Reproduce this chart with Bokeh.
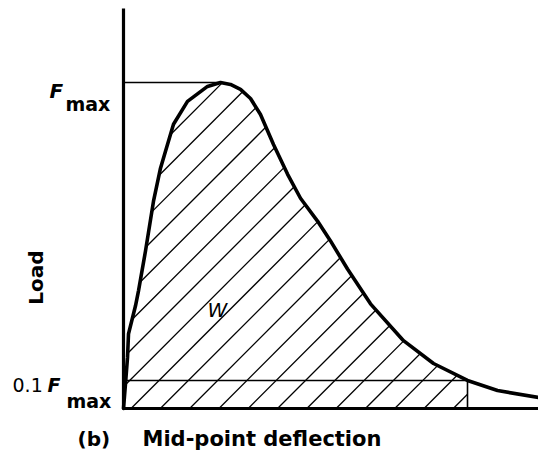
import numpy as np
from bokeh.plotting import figure
from bokeh.models import Range1d, Label
from bokeh.embed import file_html
from bokeh.resources import INLINE

# ---- data (deflection in arbitrary units, load as fraction of Fmax)
deflection = [0.0, 0.05, 0.10, 0.125, 0.30, 0.375, 0.55, 0.75, 0.925, 1.05, 1.25, 1.60,
              2.10, 2.425, 2.675, 2.925, 3.175, 3.425, 3.75, 4.10, 4.425, 4.85, 5.175,
              5.60, 6.175, 7.00, 7.75, 8.60, 9.35, 10.375]
load = [0.0, 0.076, 0.156, 0.229, 0.315, 0.361, 0.483, 0.636, 0.737, 0.789, 0.872, 0.942,
        0.988, 1.0, 0.994, 0.979, 0.951, 0.902, 0.810, 0.719, 0.645, 0.575, 0.514,
        0.428, 0.321, 0.208, 0.138, 0.086, 0.055, 0.034]
threshold = 0.086          # level drawn as "0.1 Fmax"
y_tick_labels = ["F", "max", "0.1", "F", "max"]
x_label = "Mid-point deflection"
y_label = "Load"
panel_label = "(b)"
area_label = "W"

# ---- layout (screen geometry)
W, H = 538, 451
PX, PY = 40.0, 326.0        # pixels per unit
OX, OY = 123.0, 408.0        # origin position in the figure (from left / top)

def dx(px):
    return (px - OX) / PX

def dy(py):
    return (OY - py) / PY

p = figure(width=W, height=H, output_backend="svg", toolbar_location=None,
           x_range=Range1d(-OX / PX, (W - OX) / PX),
           y_range=Range1d(-(H - OY) / PY, OY / PY),
           x_axis_type=None, y_axis_type=None, min_border=0)
p.grid.visible = False
p.outline_line_color = None
p.background_fill_color = "white"
p.border_fill_color = "white"

d = np.array(deflection)
L = np.array(load)
fmax = L.max()
i_pk = int(L.argmax())
d_pk = d[i_pk]
fall_d, fall_L = d[i_pk:], L[i_pk:]
d_c = float(np.interp(threshold, fall_L[::-1], fall_d[::-1]))

# ---- 45-degree hatching inside the area under the curve up to the crossing
slope = PX / PY
grid = np.linspace(0, d_c, 8000)
cv = np.interp(grid, d, L)
step = 29.3 / PX
phase = 7.5 / PX
hx0, hy0, hx1, hy1 = [], [], [], []
for k in range(-20, 25):
    c = phase + k * step
    ln = slope * (grid - c)
    inside = (ln >= 0) & (ln <= cv)
    if not inside.any():
        continue
    idx = np.flatnonzero(inside)
    br = np.flatnonzero(np.diff(idx) > 1)
    starts = np.r_[idx[0], idx[br + 1]]
    ends = np.r_[idx[br], idx[-1]]
    for s, e in zip(starts, ends):
        if e - s < 2:
            continue
        hx0.append(grid[s]); hy0.append(ln[s]); hx1.append(grid[e]); hy1.append(ln[e])
p.segment(hx0, hy0, hx1, hy1, line_color="black", line_width=1.3)

# reference lines
p.segment([0, 0], [fmax, threshold], [d_pk, d_c], [fmax, threshold], line_color="black", line_width=1.6)
p.segment([d_c], [0], [d_c], [threshold], line_color="black", line_width=1.6)

# axes
p.segment([0], [0], [0], [(OY - 8) / PY], line_color="black", line_width=3.2)
p.segment([0], [0], [(W - OX) / PX], [0], line_color="black", line_width=3.2)

# curve
p.line(deflection, load, line_color="black", line_width=3.6, line_join="round", line_cap="round")

FONT = "DejaVu Sans"
def lab(text, px, py, size, style="normal", align="left", baseline="alphabetic", angle=0.0):
    p.add_layout(Label(x=dx(px), y=dy(py), text=text, text_font=FONT, text_font_size=f"{size}px",
                       text_font_style=style, text_align=align, text_baseline=baseline,
                       angle=angle, text_color="black"))

lab(y_tick_labels[0], 49, 90, 20, "bold italic")
lab(y_tick_labels[1], 65, 103, 19, "bold")
lab(y_tick_labels[2], 12, 384, 19)
lab(y_tick_labels[3], 47, 384, 19, "bold italic")
lab(y_tick_labels[4], 66, 400, 19, "bold")
lab(y_label, 35, 277, 20, "bold", align="center", baseline="middle", angle=np.pi / 2)
lab(area_label, 207, 309, 20, "italic")
lab(panel_label, 77, 438, 20, "bold")
lab(x_label, 142, 438, 21, "bold")

open("out.html", "w").write(file_html(p, INLINE))
